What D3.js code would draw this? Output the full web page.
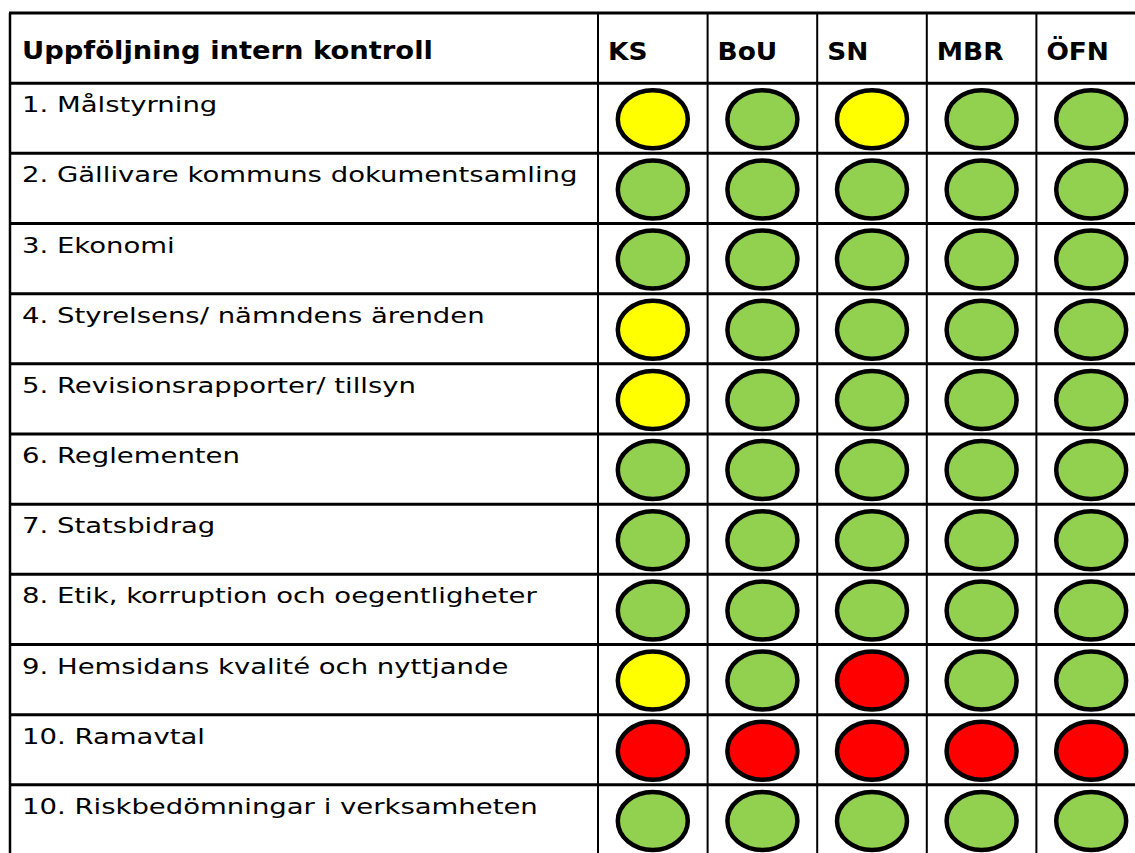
<!DOCTYPE html>
<html>
<head>
<meta charset="utf-8">
<script src="https://cdn.jsdelivr.net/npm/d3@7"></script>
<style>
  body { margin: 0; background: #fff; }
  svg { display: block; }
  .label { font-family: "DejaVu Sans", Verdana, sans-serif; font-size: 22px; fill: #000; }
  .head { font-family: "DejaVu Sans", Verdana, sans-serif; font-size: 24px; font-weight: bold; fill: #000; }
</style>
</head>
<body>
<div id="chart"></div>
<script>
// Table content
const title = 'Uppföljning intern kontroll';
const units = ['KS', 'BoU', 'SN', 'MBR', 'ÖFN'];
const items = [
    '1. Målstyrning',
    '2. Gällivare kommuns dokumentsamling',
    '3. Ekonomi',
    '4. Styrelsens/ nämndens ärenden',
    '5. Revisionsrapporter/ tillsyn',
    '6. Reglementen',
    '7. Statsbidrag',
    '8. Etik, korruption och oegentligheter',
    '9. Hemsidans kvalité och nyttjande',
    '10. Ramavtal',
    '10. Riskbedömningar i verksamheten'
];
// status per item, in the order of units (g = green, y = yellow, r = red)
const status = [
    ['y', 'g', 'y', 'g', 'g'],
    ['g', 'g', 'g', 'g', 'g'],
    ['g', 'g', 'g', 'g', 'g'],
    ['y', 'g', 'g', 'g', 'g'],
    ['y', 'g', 'g', 'g', 'g'],
    ['g', 'g', 'g', 'g', 'g'],
    ['g', 'g', 'g', 'g', 'g'],
    ['g', 'g', 'g', 'g', 'g'],
    ['y', 'g', 'r', 'g', 'g'],
    ['r', 'r', 'r', 'r', 'r'],
    ['g', 'g', 'g', 'g', 'g']
];
const statusColors = { g: '#92D050', y: '#FFFF00', r: '#FF0000' };

const width = 1135, height = 853;
const tableLeft = 10, firstColRight = 598, tableRight = 1146;
const tableTop = 13, tableBottom = 855;
// the original text is wider than DejaVu, stretch it horizontally
const bodyStretch = 1.25, titleStretch = 1.14, unitStretch = 1.1;

const svg = d3.select('#chart').append('svg')
    .attr('width', width)
    .attr('height', height);

// Scales
const x = d3.scaleBand()
    .domain(units)
    .range([firstColRight, tableRight]);

const y = d3.scaleBand()
    .domain(['__head'].concat(items))
    .range([tableTop, tableBottom]);

// Cell data
const cells = [];
items.forEach((item, i) => {
    units.forEach((u, j) => {
        cells.push({ item: item, unit: u, value: status[i][j] });
    });
});

// Row labels
svg.selectAll('.label')
    .data(items)
    .enter().append('text')
    .attr('class', 'label')
    .attr('transform', d => `translate(${tableLeft + 12},${y(d) + 29}) scale(${bodyStretch},1)`)
    .text(d => d);

// Header
svg.append('text')
    .attr('class', 'head')
    .attr('transform', `translate(${tableLeft + 12},${y('__head') + 46}) scale(${titleStretch},1)`)
    .text(title);

svg.selectAll('.unit')
    .data(units)
    .enter().append('text')
    .attr('class', 'head unit')
    .attr('transform', d => `translate(${x(d) + 10},${y('__head') + 47}) scale(${unitStretch},1)`)
    .text(d => d);

// Traffic light ellipses
svg.selectAll('.light')
    .data(cells)
    .enter().append('ellipse')
    .attr('class', 'light')
    .attr('cx', d => x(d.unit) + x.bandwidth() / 2)
    .attr('cy', d => y(d.item) + y.bandwidth() / 2 + 1)
    .attr('rx', 35)
    .attr('ry', 29)
    .attr('fill', d => statusColors[d.value])
    .attr('stroke', '#000')
    .attr('stroke-width', 4.5);

// Grid lines
const rowEdges = y.domain().map(d => y(d)).concat([tableBottom]);
svg.selectAll('.hline')
    .data(rowEdges)
    .enter().append('line')
    .attr('class', 'hline')
    .attr('x1', tableLeft - 1)
    .attr('x2', tableRight)
    .attr('y1', d => d)
    .attr('y2', d => d)
    .attr('stroke', '#000')
    .attr('stroke-width', 3);

const colEdges = [tableLeft, firstColRight].concat(units.slice(1).map(d => x(d)), [tableRight]);
svg.selectAll('.vline')
    .data(colEdges)
    .enter().append('line')
    .attr('class', 'vline')
    .attr('x1', d => d)
    .attr('x2', d => d)
    .attr('y1', tableTop)
    .attr('y2', tableBottom)
    .attr('stroke', '#000')
    .attr('stroke-width', (d, i) => i === 0 ? 2.5 : 2);
</script>
</body>
</html>
